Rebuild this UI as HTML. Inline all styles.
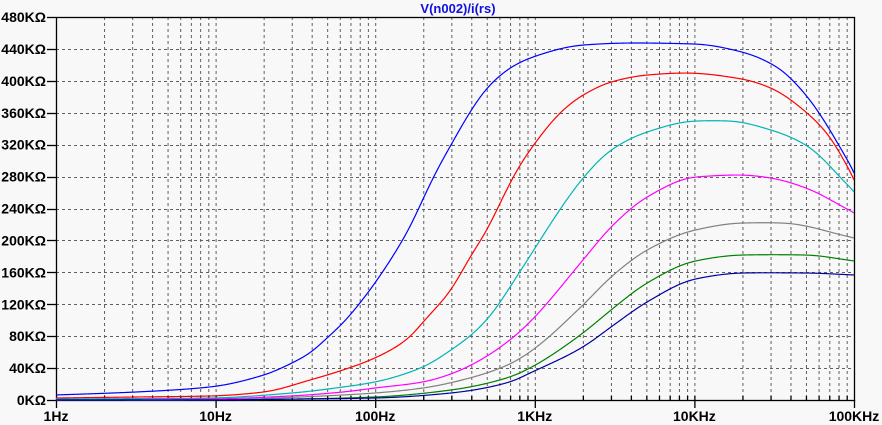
<!DOCTYPE html>
<html><head><meta charset="utf-8"><style>
html,body{margin:0;padding:0;background:#f8f8f8;}
svg{display:block;font-family:"Liberation Sans",sans-serif;font-weight:bold;}
</style></head><body>
<svg id="s" width="882" height="425" xmlns="http://www.w3.org/2000/svg">
<rect width="882" height="425" fill="#f8f8f8"/>
<g id="grid" stroke="#606060" stroke-width="1" stroke-dasharray="3,3" fill="none"></g>
<g id="ax" stroke="#000" stroke-width="1.3" fill="none"></g>
<g id="lab" font-size="14" fill="#000"></g>
<text x="458" y="13" font-size="13" fill="#1010e0" text-anchor="middle">V(n002)/i(rs)</text>
<g id="cv" fill="none" stroke-width="1.2" stroke-linejoin="round"></g>
</svg>
<script>
const NS="http://www.w3.org/2000/svg";
const L=56,R=854,T=17,B=400,D=(R-L)/5;
function el(p,t,a,txt){const e=document.createElementNS(NS,t);for(const k in a)e.setAttribute(k,a[k]);if(txt)e.textContent=txt;p.appendChild(e);return e;}
const g=document.getElementById('grid'),ax=document.getElementById('ax'),lab=document.getElementById('lab');
for(let d=0;d<5;d++)for(let m=1;m<=9;m++){const x=L+D*(d+Math.log10(m));if(d==0&&m==1)continue;
 el(g,'line',{x1:x+.5,y1:T,x2:x+.5,y2:B});
 el(ax,'line',{x1:x+.5,y1:B-4,x2:x+.5,y2:B+(m==1?8:0)});}
el(ax,'line',{x1:R+.5,y1:B,x2:R+.5,y2:B+8});el(ax,'line',{x1:L+.5,y1:B,x2:L+.5,y2:B+8});
const step=(B-T)/12;
for(let i=0;i<=12;i++){const y=B-i*step;if(i>0&&i<12)el(g,'line',{x1:L,y1:Math.round(y)+.5,x2:R,y2:Math.round(y)+.5});
 el(ax,'line',{x1:47,y1:Math.round(y)+.5,x2:L,y2:Math.round(y)+.5});
 el(lab,'text',{x:46,y:y+5,'text-anchor':'end'},(i*40)+'KΩ');}
el(ax,'rect',{x:L+.5,y:T+.5,width:R-L,height:B-T});
['1Hz','10Hz','100Hz','1KHz','10KHz','100KHz'].forEach((t,i)=>el(lab,'text',{x:L+i*D,y:421,'text-anchor':'middle'},t));
const C=[
['#0000ff',[[56,395],[136,392],[210,387],[264,375],[292,363],[310,353],[327,338],[343,323],[360,303],[375,283],[393,256],[410,227],[423,199],[437,170],[451,145],[470,112],[487,88],[510,68],[530,58],[583,45],[630,43],[695,44],[742,52],[777,67],[806,95],[830,130],[854,173]]],
['#ff0000',[[56,398],[136,397],[210,396],[264,392],[310,380],[343,370],[375,358],[410,337],[423,322],[451,290],[470,257],[487,230],[503,197],[517,170],[530,150],[563,110],[583,95],[611,82],[647,75],[687,73],[742,79],[771,88],[806,112],[830,137],[854,180]]],
['#00b4b4',[[56,399],[210,398],[292,393],[343,387],[375,382],[423,367],[451,350],[477,330],[497,307],[510,287],[530,256],[563,205],[583,178],[611,150],[647,132],[695,121],[730,121],[771,130],[806,145],[854,192]]],
['#ff00ff',[[56,400],[210,399],[290,396],[343,392],[375,388],[423,382],[451,374],[477,362],[510,340],[530,322],[583,260],[611,227],[647,197],[695,177],[742,175],[771,178],[806,188],[854,213]]],
['#808080',[[56,400],[210,400],[300,397],[375,393],[423,388],[477,376],[510,364],[530,352],[583,305],[611,277],[647,250],[695,230],[742,223],[783,223],[854,238]]],
['#008000',[[56,400],[210,400],[300,399],[375,397],[451,390],[510,377],[530,368],[583,333],[611,310],[647,283],[695,261],[742,255],[806,255],[854,261]]],
['#0000a0',[[56,400],[210,400],[300,399],[375,398],[451,393],[510,382],[530,373],[583,347],[611,327],[647,302],[695,279],[742,273],[806,273],[854,275]]]];
function mono(p){const n=p.length,dx=[],m=[],t=[];
 for(let i=0;i<n-1;i++){dx.push(p[i+1][0]-p[i][0]);m.push((p[i+1][1]-p[i][1])/dx[i]);}
 t[0]=m[0];t[n-1]=m[n-2];
 for(let i=1;i<n-1;i++){if(m[i-1]*m[i]<=0)t[i]=(m[i-1]+m[i])/2*0.3;else{const w1=2*dx[i]+dx[i-1],w2=dx[i]+2*dx[i-1];t[i]=(w1+w2)/(w1/m[i-1]+w2/m[i]);}}
 return x=>{let j=0;while(j<n-2&&p[j+1][0]<x)j++;const h=dx[j],s=(x-p[j][0])/h;
  const h00=2*s*s*s-3*s*s+1,h10=s*s*s-2*s*s+s,h01=-2*s*s*s+3*s*s,h11=s*s*s-s*s;
  return h00*p[j][1]+h10*h*t[j]+h01*p[j+1][1]+h11*h*t[j+1];};}
const cv=document.getElementById('cv');
C.forEach(([col,p])=>{
 const f=mono(p),ys=[];
 for(let x=L;x<=R;x++)ys.push(f(x));
 const s=6,W=18,out=[];
 for(let i=0;i<ys.length;i++){let sw=0,sy=0;
  for(let k=-W;k<=W;k++){let q=i+k;if(q<0||q>=ys.length)continue;const w=Math.exp(-k*k/(2*s*s));sw+=w;sy+=w*ys[q];}
  let v=sy/sw;const e=Math.min(i,ys.length-1-i);if(e<W){const fr=e/W;v=v*fr+ys[i]*(1-fr);}
  out.push(v);}
 let d='';out.forEach((y,i)=>{d+=(i?'L':'M')+(L+i)+','+y.toFixed(2);});
 el(cv,'path',{d:d,stroke:col});});
</script>
</body></html>
